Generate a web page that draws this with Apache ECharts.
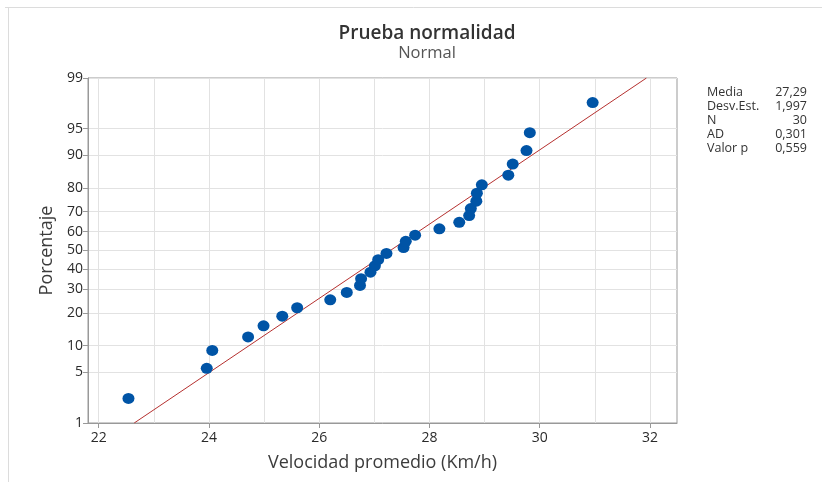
<!DOCTYPE html>
<html>
<head>
<meta charset="utf-8">
<script src="https://cdn.jsdelivr.net/npm/echarts@6/dist/echarts.min.js"></script>
<style>html,body{margin:0;padding:0;background:#fff}#c{width:822px;height:482px}</style>
</head>
<body>
<div id="c"></div>
<script>
// Data
const velocidad = [22.54, 23.96, 24.06, 24.71, 24.99, 25.33, 25.60, 26.20, 26.50, 26.74,
                   26.76, 26.93, 27.01, 27.07, 27.22, 27.53, 27.57, 27.74, 28.18, 28.54,
                   28.72, 28.75, 28.85, 28.86, 28.95, 29.43, 29.51, 29.76, 29.82, 30.96];
const porcentaje = [2.3, 5.6, 8.9, 12.2, 15.5, 18.8, 22.0, 25.3, 28.6, 31.9,
                    35.2, 38.5, 41.8, 45.1, 48.4, 51.6, 54.9, 58.2, 61.5, 64.8,
                    68.1, 71.4, 74.7, 78.0, 81.2, 84.5, 87.8, 91.1, 94.4, 97.7];
const yTicks = [1, 5, 10, 20, 30, 40, 50, 60, 70, 80, 90, 95, 99];
const xTicks = [22, 24, 26, 28, 30, 32];
const xGrid = [22, 23, 24, 25, 26, 27, 28, 29, 30, 31, 32];
const media = 27.29, desvEst = 1.997;
const statLabels = ['Media', 'Desv.Est.', 'N', 'AD', 'Valor p'];
const statValues = ['27,29', '1,997', '30', '0,301', '0,559'];

// inverse normal CDF (probability scale of the axis)
function probit(p) {
  const a = [-3.969683028665376e+01, 2.209460984245205e+02, -2.759285104469687e+02, 1.383577518672690e+02, -3.066479806614716e+01, 2.506628277459239e+00];
  const b = [-5.447609879822406e+01, 1.615858368580409e+02, -1.556989798598866e+02, 6.680131188771972e+01, -1.328068155288572e+01];
  const c = [-7.784894002430293e-03, -3.223964580411365e-01, -2.400758277161838e+00, -2.549732539343734e+00, 4.374664141464968e+00, 2.938163982698783e+00];
  const d = [7.784695709041462e-03, 3.224671290700398e-01, 2.445134137142996e+00, 3.754408661907416e+00];
  const pl = 0.02425, ph = 1 - pl;
  let q, r;
  if (p < pl) { q = Math.sqrt(-2 * Math.log(p)); return (((((c[0]*q+c[1])*q+c[2])*q+c[3])*q+c[4])*q+c[5]) / ((((d[0]*q+d[1])*q+d[2])*q+d[3])*q+1); }
  if (p <= ph) { q = p - 0.5; r = q*q; return (((((a[0]*r+a[1])*r+a[2])*r+a[3])*r+a[4])*r+a[5])*q / (((((b[0]*r+b[1])*r+b[2])*r+b[3])*r+b[4])*r+1); }
  q = Math.sqrt(-2 * Math.log(1 - p)); return -(((((c[0]*q+c[1])*q+c[2])*q+c[3])*q+c[4])*q+c[5]) / ((((d[0]*q+d[1])*q+d[2])*q+d[3])*q+1);
}
const zTicks = yTicks.map(v => probit(v / 100));
const zMin = probit(0.01), zMax = probit(0.99);
function zToLabel(z) {
  for (let i = 0; i < zTicks.length; i++) if (Math.abs(zTicks[i] - z) < 1e-6) return String(yTicks[i]);
  return '';
}
const points = velocidad.map((v, i) => [v, probit(porcentaje[i] / 100)]);
const fitLine = [[media + zMin * desvEst, zMin], [media + zMax * desvEst, zMax]];

const FONT = '"Open Sans", "Noto Sans", sans-serif';
const chart = echarts.init(document.getElementById('c'), null, { renderer: 'canvas' });

const graphics = [
  { type: 'line', shape: { x1: 5, y1: 7.5, x2: 822, y2: 7.5 }, style: { stroke: '#dcdcdc', lineWidth: 1 } },
  { type: 'line', shape: { x1: 8.5, y1: 7, x2: 8.5, y2: 482 }, style: { stroke: '#dcdcdc', lineWidth: 1 } }
];
statLabels.forEach((t, i) => {
  graphics.push({ type: 'text', left: 707, top: 86 + i * 14, style: { text: t, font: '12.5px ' + FONT, fill: '#333' } });
  graphics.push({ type: 'text', right: 15, top: 86 + i * 14, style: { text: statValues[i], font: '12.5px ' + FONT, fill: '#333', align: 'right' } });
});

chart.setOption({
  animation: false,
  backgroundColor: '#fff',
  title: {
    text: 'Prueba normalidad',
    subtext: 'Normal',
    left: 422, top: 19, textAlign: 'center', itemGap: 2,
    textStyle: { fontFamily: FONT, fontSize: 19, fontWeight: 600, color: '#333' },
    subtextStyle: { fontFamily: FONT, fontSize: 16.5, color: '#555' }
  },
  grid: { left: 88, right: 145, top: 78, bottom: 59, show: true, borderColor: '#999', borderWidth: 1, backgroundColor: 'transparent' },
  xAxis: [{
    type: 'value', min: 21.806, max: 32.49,
    name: 'Velocidad promedio (Km/h)', nameLocation: 'middle', nameGap: 31,
    nameTextStyle: { fontFamily: FONT, fontSize: 18, color: '#3c3c3c' },
    axisLine: { show: true, onZero: false, lineStyle: { color: '#999' } },
    axisTick: { show: true, length: 5, lineStyle: { color: '#999' }, customValues: xTicks },
    axisLabel: { fontFamily: FONT, fontSize: 14, color: '#2a2a2a', margin: 8, customValues: xTicks },
    splitLine: { show: false }
  }, {
    type: 'value', min: 21.806, max: 32.49, position: 'bottom',
    axisLine: { show: false, onZero: false }, axisLabel: { show: false },
    axisTick: { show: false, customValues: xGrid },
    splitLine: { show: true, lineStyle: { color: '#e2e2e2', width: 1 } }
  }],
  yAxis: {
    type: 'value', min: zMin, max: zMax,
    name: 'Porcentaje', nameLocation: 'middle', nameGap: 31, nameRotate: 90,
    nameTextStyle: { fontFamily: FONT, fontSize: 18, color: '#3c3c3c' },
    axisLine: { show: true, onZero: false, lineStyle: { color: '#999' } },
    axisTick: { show: true, length: 5, lineStyle: { color: '#999' }, customValues: zTicks },
    axisLabel: { fontFamily: FONT, fontSize: 14, color: '#2a2a2a', margin: 5, customValues: zTicks, formatter: v => zToLabel(v) },
    splitLine: { show: true, lineStyle: { color: '#e2e2e2', width: 1 } }
  },
  graphic: graphics,
  series: [{
    type: 'line', data: fitLine, symbol: 'none', silent: true,
    lineStyle: { color: '#b5302f', width: 1 }, z: 2
  }, {
    type: 'scatter', data: points, symbol: 'circle', symbolSize: [12, 11],
    itemStyle: { color: '#0054a6', opacity: 1 }, z: 3
  }]
});
</script>
</body>
</html>
